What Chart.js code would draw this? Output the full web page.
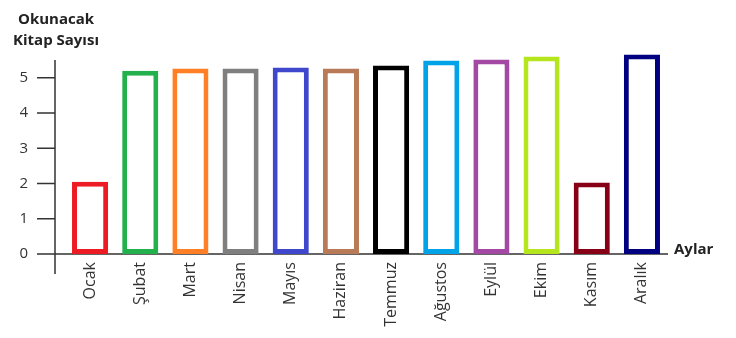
<!DOCTYPE html>
<html>
<head>
<meta charset="utf-8">
<script src="https://cdn.jsdelivr.net/npm/chart.js@4"></script>
<style>
  html, body { margin: 0; padding: 0; background: #fff; }
  #wrap { width: 736px; height: 338px; }
</style>
</head>
<body>
<div id="wrap"><canvas id="myChart"></canvas></div>
<script>
const months = ['Ocak', 'Şubat', 'Mart', 'Nisan', 'Mayıs', 'Haziran', 'Temmuz', 'Ağustos', 'Eylül', 'Ekim', 'Kasım', 'Aralık'];
const bookCounts = [2.05, 5.2, 5.26, 5.26, 5.29, 5.26, 5.35, 5.49, 5.52, 5.6, 2.03, 5.66];
const barColors = ['#ED1C24', '#22B14C', '#FF7F27', '#7F7F7F', '#3F48CC', '#B97A57', '#000000', '#00A2E8', '#A349A4', '#B5E61D', '#880015', '#000080'];
const yTicks = [0, 1, 2, 3, 4, 5];
const yTitle = ['Okunacak', 'Kitap Sayısı'];
const xTitle = 'Aylar';

const textColor = '#333';
const axisColor = '#333';

// axis lines sit a little left of the bars, like the printed chart
const axesPlugin = {
  id: 'axes',
  beforeDatasetsDraw(chart) {
    const { ctx, chartArea, scales } = chart;
    const ax = chartArea.left - 10;
    ctx.save();
    ctx.strokeStyle = axisColor;
    ctx.lineWidth = 1.5;
    ctx.beginPath();
    ctx.moveTo(ax, scales.y.getPixelForValue(5.5));
    ctx.lineTo(ax, chartArea.bottom + 20);
    yTicks.forEach(v => {
      const py = scales.y.getPixelForValue(v);
      ctx.moveTo(ax - 18, py);
      ctx.lineTo(ax, py);
    });
    ctx.moveTo(ax - 18, chartArea.bottom);
    ctx.lineTo(chartArea.right + 1, chartArea.bottom);
    ctx.stroke();
    ctx.restore();
  },
  afterDraw(chart) {
    const { ctx, chartArea } = chart;
    ctx.save();
    ctx.fillStyle = '#222';
    ctx.font = 'bold 15px "Open Sans"';
    ctx.textAlign = 'center';
    ctx.textBaseline = 'middle';
    ctx.fillText(yTitle[0], 56, 20);
    ctx.fillText(yTitle[1], 56, 41);
    ctx.textAlign = 'left';
    ctx.fillText(xTitle, chartArea.right + 7, chartArea.bottom - 4);
    ctx.restore();
  }
};

var ctx = document.getElementById('myChart');
var myChart = new Chart(ctx, {
  type: 'bar',
  data: {
    labels: months,
    datasets: [{
      data: bookCounts,
      backgroundColor: '#ffffff',
      borderColor: barColors,
      borderWidth: 5,
      borderSkipped: false,
      barPercentage: 0.72,
      categoryPercentage: 1
    }]
  },
  options: {
    responsive: true,
    maintainAspectRatio: false,
    animation: false,
    layout: { padding: { top: 41, left: 20, right: 69, bottom: 0 } },
    plugins: {
      legend: { display: false },
      tooltip: { enabled: false }
    },
    scales: {
      x: {
        grid: { display: false, drawTicks: false },
        border: { display: false },
        afterFit: s => { s.height = 84; },
        ticks: {
          autoSkip: false,
          minRotation: 90,
          maxRotation: 90,
          padding: 8,
          color: textColor,
          font: { family: '"Open Sans"', size: 16 }
        }
      },
      y: {
        min: 0,
        max: 5.9,
        grid: { display: false, drawTicks: false },
        border: { display: false },
        afterFit: s => { s.width = 45; },
        afterBuildTicks: s => { s.ticks = yTicks.map(v => ({ value: v })); },
        ticks: {
          padding: 37,
          color: textColor,
          font: { family: '"Open Sans"', size: 15 }
        }
      }
    }
  },
  plugins: [axesPlugin]
});
</script>
</body>
</html>
